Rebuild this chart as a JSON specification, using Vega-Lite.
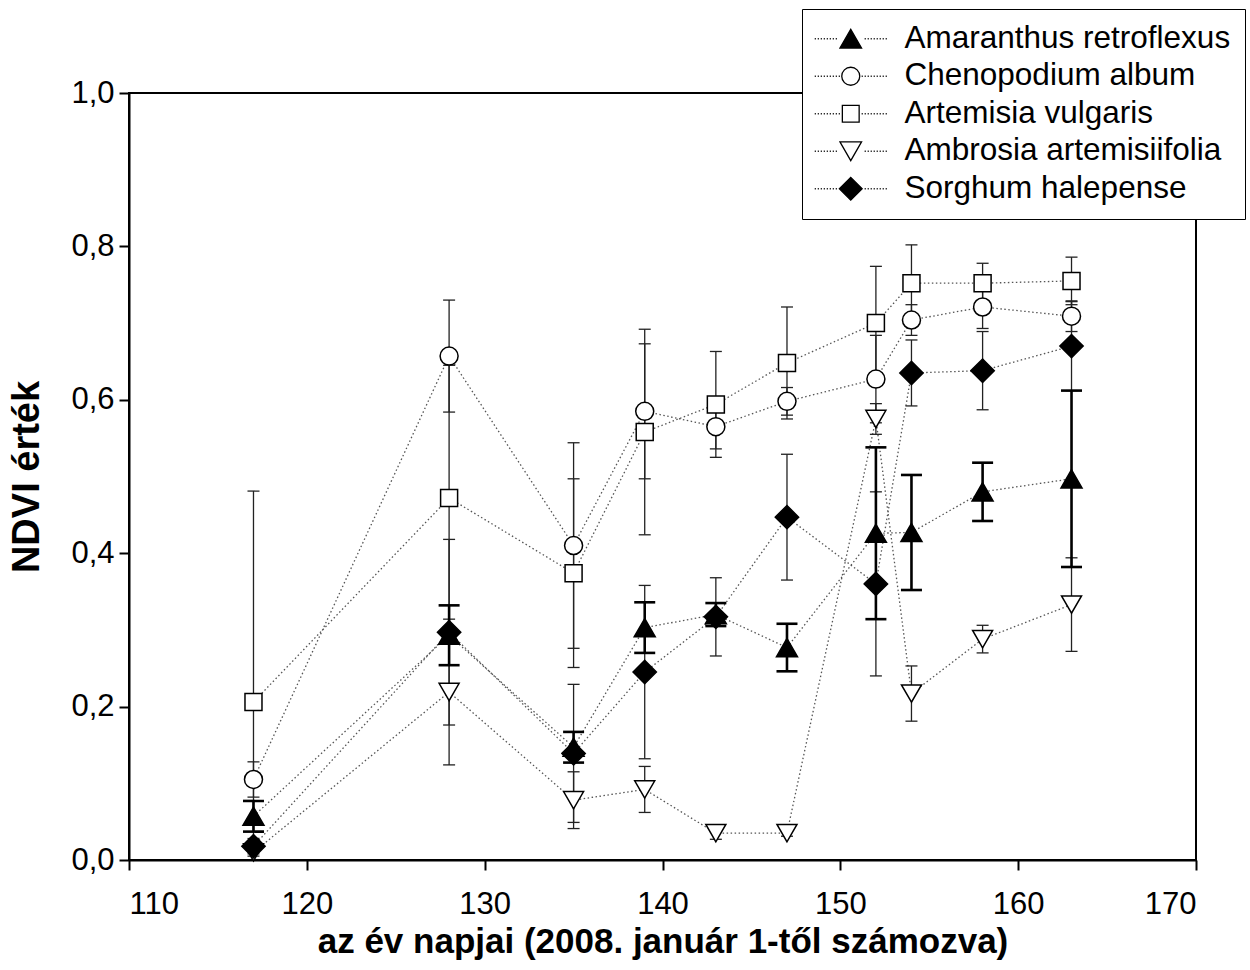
{
  "$schema": "https://vega.github.io/schema/vega-lite/v6.json",
  "autosize": {"type": "none"},
  "width": 1067,
  "height": 767,
  "padding": {"left": 129, "top": 93, "right": 54, "bottom": 110},
  "background": "white",
  "config": {
    "font": "Liberation Sans",
    "view": {"stroke": "black", "strokeWidth": 2},
    "axis": {
      "grid": false,
      "domainColor": "black",
      "domainWidth": 2,
      "tickColor": "black",
      "tickWidth": 2,
      "tickSize": 10,
      "labelFont": "Liberation Sans",
      "labelFontSize": 31,
      "labelColor": "black",
      "titleFont": "Liberation Sans",
      "titleFontWeight": "bold",
      "titleColor": "black"
    }
  },
  "data": {
    "values": [
      {"day": 117, "species": "Amaranthus retroflexus", "ndvi": 0.057, "lo": 0.037, "hi": 0.077},
      {"day": 128, "species": "Amaranthus retroflexus", "ndvi": 0.293, "lo": 0.254, "hi": 0.332},
      {"day": 135, "species": "Amaranthus retroflexus", "ndvi": 0.147, "lo": 0.127, "hi": 0.167},
      {"day": 139, "species": "Amaranthus retroflexus", "ndvi": 0.303, "lo": 0.27, "hi": 0.336},
      {"day": 143, "species": "Amaranthus retroflexus", "ndvi": 0.32, "lo": 0.305, "hi": 0.335},
      {"day": 147, "species": "Amaranthus retroflexus", "ndvi": 0.277, "lo": 0.246, "hi": 0.308},
      {"day": 152, "species": "Amaranthus retroflexus", "ndvi": 0.426, "lo": 0.314, "hi": 0.538},
      {"day": 154, "species": "Amaranthus retroflexus", "ndvi": 0.427, "lo": 0.352, "hi": 0.502},
      {"day": 158, "species": "Amaranthus retroflexus", "ndvi": 0.48, "lo": 0.442, "hi": 0.518},
      {"day": 163, "species": "Amaranthus retroflexus", "ndvi": 0.497, "lo": 0.382, "hi": 0.612},
      {"day": 117, "species": "Chenopodium album", "ndvi": 0.105, "lo": 0.082, "hi": 0.128},
      {"day": 128, "species": "Chenopodium album", "ndvi": 0.657, "lo": 0.584, "hi": 0.73},
      {"day": 135, "species": "Chenopodium album", "ndvi": 0.41, "lo": 0.276, "hi": 0.544},
      {"day": 139, "species": "Chenopodium album", "ndvi": 0.585, "lo": 0.497, "hi": 0.673},
      {"day": 143, "species": "Chenopodium album", "ndvi": 0.565, "lo": 0.536, "hi": 0.594},
      {"day": 147, "species": "Chenopodium album", "ndvi": 0.598, "lo": 0.58, "hi": 0.616},
      {"day": 152, "species": "Chenopodium album", "ndvi": 0.627, "lo": 0.57, "hi": 0.684},
      {"day": 154, "species": "Chenopodium album", "ndvi": 0.704, "lo": 0.684, "hi": 0.724},
      {"day": 158, "species": "Chenopodium album", "ndvi": 0.721, "lo": 0.693, "hi": 0.749},
      {"day": 163, "species": "Chenopodium album", "ndvi": 0.709, "lo": 0.689, "hi": 0.729},
      {"day": 117, "species": "Artemisia vulgaris", "ndvi": 0.206, "lo": -0.069, "hi": 0.481},
      {"day": 128, "species": "Artemisia vulgaris", "ndvi": 0.472, "lo": 0.299, "hi": 0.645},
      {"day": 135, "species": "Artemisia vulgaris", "ndvi": 0.374, "lo": 0.251, "hi": 0.497},
      {"day": 139, "species": "Artemisia vulgaris", "ndvi": 0.558, "lo": 0.424, "hi": 0.692},
      {"day": 143, "species": "Artemisia vulgaris", "ndvi": 0.594, "lo": 0.525, "hi": 0.663},
      {"day": 147, "species": "Artemisia vulgaris", "ndvi": 0.648, "lo": 0.575, "hi": 0.721},
      {"day": 152, "species": "Artemisia vulgaris", "ndvi": 0.7, "lo": 0.626, "hi": 0.774},
      {"day": 154, "species": "Artemisia vulgaris", "ndvi": 0.752, "lo": 0.702, "hi": 0.802},
      {"day": 158, "species": "Artemisia vulgaris", "ndvi": 0.752, "lo": 0.726, "hi": 0.778},
      {"day": 163, "species": "Artemisia vulgaris", "ndvi": 0.755, "lo": 0.724, "hi": 0.786},
      {"day": 117, "species": "Ambrosia artemisiifolia", "ndvi": 0.01, "lo": 0.005, "hi": 0.015},
      {"day": 128, "species": "Ambrosia artemisiifolia", "ndvi": 0.219, "lo": 0.124, "hi": 0.314},
      {"day": 135, "species": "Ambrosia artemisiifolia", "ndvi": 0.078, "lo": 0.041, "hi": 0.115},
      {"day": 139, "species": "Ambrosia artemisiifolia", "ndvi": 0.092, "lo": 0.062, "hi": 0.122},
      {"day": 143, "species": "Ambrosia artemisiifolia", "ndvi": 0.035, "lo": 0.027, "hi": 0.043},
      {"day": 147, "species": "Ambrosia artemisiifolia", "ndvi": 0.035, "lo": 0.031, "hi": 0.039},
      {"day": 152, "species": "Ambrosia artemisiifolia", "ndvi": 0.575, "lo": 0.555, "hi": 0.595},
      {"day": 154, "species": "Ambrosia artemisiifolia", "ndvi": 0.217, "lo": 0.181, "hi": 0.253},
      {"day": 158, "species": "Ambrosia artemisiifolia", "ndvi": 0.288, "lo": 0.27, "hi": 0.306},
      {"day": 163, "species": "Ambrosia artemisiifolia", "ndvi": 0.333, "lo": 0.272, "hi": 0.394},
      {"day": 117, "species": "Sorghum halepense", "ndvi": 0.018, "lo": 0.008, "hi": 0.028},
      {"day": 128, "species": "Sorghum halepense", "ndvi": 0.297, "lo": 0.176, "hi": 0.418},
      {"day": 135, "species": "Sorghum halepense", "ndvi": 0.139, "lo": 0.049, "hi": 0.229},
      {"day": 139, "species": "Sorghum halepense", "ndvi": 0.245, "lo": 0.132, "hi": 0.358},
      {"day": 143, "species": "Sorghum halepense", "ndvi": 0.317, "lo": 0.266, "hi": 0.368},
      {"day": 147, "species": "Sorghum halepense", "ndvi": 0.447, "lo": 0.365, "hi": 0.529},
      {"day": 152, "species": "Sorghum halepense", "ndvi": 0.36, "lo": 0.24, "hi": 0.48},
      {"day": 154, "species": "Sorghum halepense", "ndvi": 0.635, "lo": 0.592, "hi": 0.678},
      {"day": 158, "species": "Sorghum halepense", "ndvi": 0.638, "lo": 0.587, "hi": 0.689},
      {"day": 163, "species": "Sorghum halepense", "ndvi": 0.67, "lo": 0.612, "hi": 0.728}
    ]
  },
  "encoding": {
    "x": {
      "field": "day", "type": "quantitative",
      "scale": {"domain": [110, 170], "nice": false, "zero": false},
      "axis": {"values": [110, 120, 130, 140, 150, 160, 170], "labelPadding": 19, "title": "az év napjai (2008. január 1-től számozva)", "titleFontSize": 35, "titlePadding": 5}
    }
  },
  "layer": [
    {
      "mark": {"type": "line", "strokeDash": [1.5, 2.5], "strokeWidth": 1.3, "color": "#555", "clip": true},
      "encoding": {
        "y": {
          "field": "ndvi", "type": "quantitative",
          "scale": {"domain": [0, 1], "nice": false},
          "axis": {"values": [0, 0.2, 0.4, 0.6, 0.8, 1.0], "labelExpr": "replace(format(datum.value, '.1f'), '.', ',')", "labelPadding": 5, "title": "NDVI érték", "titleFontSize": 38, "titlePadding": 24}
        },
        "detail": {"field": "species", "type": "nominal"}
      }
    },
    {
      "transform": [{"filter": "datum.species !== 'Amaranthus retroflexus'"}],
      "mark": {"type": "rule", "strokeWidth": 1.3, "color": "#222", "clip": true},
      "encoding": {
        "y": {"field": "lo", "type": "quantitative"},
        "y2": {"field": "hi"}
      }
    },
    {
      "transform": [{"filter": "datum.species !== 'Amaranthus retroflexus'"}],
      "mark": {"type": "tick", "orient": "horizontal", "size": 12, "thickness": 1.3, "color": "#222", "opacity": 1, "clip": true},
      "encoding": {"y": {"field": "lo", "type": "quantitative"}}
    },
    {
      "transform": [{"filter": "datum.species !== 'Amaranthus retroflexus'"}],
      "mark": {"type": "tick", "orient": "horizontal", "size": 12, "thickness": 1.3, "color": "#222", "opacity": 1, "clip": true},
      "encoding": {"y": {"field": "hi", "type": "quantitative"}}
    },
    {
      "transform": [{"filter": "datum.species === 'Amaranthus retroflexus'"}],
      "mark": {"type": "rule", "strokeWidth": 2.6, "color": "black", "clip": true},
      "encoding": {
        "y": {"field": "lo", "type": "quantitative"},
        "y2": {"field": "hi"}
      }
    },
    {
      "transform": [{"filter": "datum.species === 'Amaranthus retroflexus'"}],
      "mark": {"type": "tick", "orient": "horizontal", "size": 21, "thickness": 2.6, "color": "black", "opacity": 1, "clip": true},
      "encoding": {"y": {"field": "lo", "type": "quantitative"}}
    },
    {
      "transform": [{"filter": "datum.species === 'Amaranthus retroflexus'"}],
      "mark": {"type": "tick", "orient": "horizontal", "size": 21, "thickness": 2.6, "color": "black", "opacity": 1, "clip": true},
      "encoding": {"y": {"field": "hi", "type": "quantitative"}}
    },
    {
      "mark": {"type": "point", "filled": true, "stroke": "black", "strokeWidth": 1.5, "opacity": 1},
      "encoding": {
        "y": {"field": "ndvi", "type": "quantitative"},
        "shape": {
          "field": "species", "type": "nominal", "legend": null,
          "scale": {
            "domain": ["Amaranthus retroflexus", "Chenopodium album", "Artemisia vulgaris", "Ambrosia artemisiifolia", "Sorghum halepense"],
            "range": ["triangle-up", "circle", "square", "triangle-down", "diamond"]
          }
        },
        "fill": {
          "field": "species", "type": "nominal", "legend": null,
          "scale": {
            "domain": ["Amaranthus retroflexus", "Chenopodium album", "Artemisia vulgaris", "Ambrosia artemisiifolia", "Sorghum halepense"],
            "range": ["black", "white", "white", "white", "black"]
          }
        },
        "size": {
          "condition": [
            {"test": "datum.species === 'Amaranthus retroflexus'", "value": 441},
            {"test": "datum.species === 'Chenopodium album'", "value": 324},
            {"test": "datum.species === 'Artemisia vulgaris'", "value": 289},
            {"test": "datum.species === 'Ambrosia artemisiifolia'", "value": 400}
          ],
          "value": 544
        }
      }
    },
    {
      "transform": [{"filter": "false"}],
      "mark": {"type": "point", "filled": true, "stroke": "black", "strokeWidth": 1.3, "opacity": 1},
      "encoding": {
        "y": {"field": "ndvi", "type": "quantitative"},
        "shape": {
          "field": "species", "type": "nominal",
          "scale": {
            "domain": ["Amaranthus retroflexus", "Chenopodium album", "Artemisia vulgaris", "Ambrosia artemisiifolia", "Sorghum halepense"],
            "range": [
              "M0,-0.78L0.9,0.78L-0.9,0.78ZM-3,0L-2.91,0M-2.75,0L-2.66,0M-2.5,0L-2.41,0M-2.25,0L-2.16,0M-2,0L-1.91,0M-1.75,0L-1.66,0M-1.5,0L-1.41,0M-1.25,0L-1.16,0M1.16,0L1.25,0M1.41,0L1.5,0M1.66,0L1.75,0M1.91,0L2,0M2.16,0L2.25,0M2.41,0L2.5,0M2.66,0L2.75,0M2.91,0L3,0",
              "M-0.75,0A0.75,0.75,0,1,1,0.75,0A0.75,0.75,0,1,1,-0.75,0ZM-3,0L-2.91,0M-2.75,0L-2.66,0M-2.5,0L-2.41,0M-2.25,0L-2.16,0M-2,0L-1.91,0M-1.75,0L-1.66,0M-1.5,0L-1.41,0M-1.25,0L-1.16,0M-1,0L-0.91,0M0.91,0L1,0M1.16,0L1.25,0M1.41,0L1.5,0M1.66,0L1.75,0M1.91,0L2,0M2.16,0L2.25,0M2.41,0L2.5,0M2.66,0L2.75,0M2.91,0L3,0",
              "M-0.7,-0.7L0.7,-0.7L0.7,0.7L-0.7,0.7ZM-3,0L-2.91,0M-2.75,0L-2.66,0M-2.5,0L-2.41,0M-2.25,0L-2.16,0M-2,0L-1.91,0M-1.75,0L-1.66,0M-1.5,0L-1.41,0M-1.25,0L-1.16,0M-1,0L-0.91,0M0.91,0L1,0M1.16,0L1.25,0M1.41,0L1.5,0M1.66,0L1.75,0M1.91,0L2,0M2.16,0L2.25,0M2.41,0L2.5,0M2.66,0L2.75,0M2.91,0L3,0",
              "M-0.9,-0.78L0.9,-0.78L0,0.78ZM-3,0L-2.91,0M-2.75,0L-2.66,0M-2.5,0L-2.41,0M-2.25,0L-2.16,0M-2,0L-1.91,0M-1.75,0L-1.66,0M-1.5,0L-1.41,0M-1.25,0L-1.16,0M1.16,0L1.25,0M1.41,0L1.5,0M1.66,0L1.75,0M1.91,0L2,0M2.16,0L2.25,0M2.41,0L2.5,0M2.66,0L2.75,0M2.91,0L3,0",
              "M0,-0.95L0.95,0L0,0.95L-0.95,0ZM-3,0L-2.91,0M-2.75,0L-2.66,0M-2.5,0L-2.41,0M-2.25,0L-2.16,0M-2,0L-1.91,0M-1.75,0L-1.66,0M-1.5,0L-1.41,0M-1.25,0L-1.16,0M1.16,0L1.25,0M1.41,0L1.5,0M1.66,0L1.75,0M1.91,0L2,0M2.16,0L2.25,0M2.41,0L2.5,0M2.66,0L2.75,0M2.91,0L3,0"
            ]
          },
          "legend": {
            "title": null, "orient": "none", "legendX": 673, "legendY": -84,
            "direction": "vertical",
            "fillColor": "white", "strokeColor": "black",
            "padding": 14,
            "symbolSize": 576, "symbolStrokeWidth": 1.3, "symbolStrokeColor": "black", "symbolOpacity": 1,
            "symbolOffset": 19, "labelOffset": 38,
            "labelFont": "Liberation Sans", "labelFontSize": 31.5, "labelColor": "black", "labelLimit": 600,
            "rowPadding": 4.5,
            "encode": {"symbols": {"update": {"stroke": {"value": "black"}, "strokeWidth": {"value": 1.3}, "opacity": {"value": 1}}}}
          }
        },
        "fill": {
          "field": "species", "type": "nominal",
          "scale": {
            "domain": ["Amaranthus retroflexus", "Chenopodium album", "Artemisia vulgaris", "Ambrosia artemisiifolia", "Sorghum halepense"],
            "range": ["black", "white", "white", "white", "black"]
          },
          "legend": {
            "title": null, "orient": "none", "legendX": 673, "legendY": -84,
            "direction": "vertical",
            "fillColor": "white", "strokeColor": "black",
            "padding": 14,
            "symbolSize": 576, "symbolStrokeWidth": 1.3, "symbolStrokeColor": "black", "symbolOpacity": 1,
            "symbolOffset": 19, "labelOffset": 38,
            "labelFont": "Liberation Sans", "labelFontSize": 31.5, "labelColor": "black", "labelLimit": 600,
            "rowPadding": 4.5,
            "encode": {"symbols": {"update": {"stroke": {"value": "black"}, "strokeWidth": {"value": 1.3}, "opacity": {"value": 1}}}}
          }
        }
      }
    }
  ],
  "resolve": {"scale": {"shape": "independent", "fill": "independent"}}
}
